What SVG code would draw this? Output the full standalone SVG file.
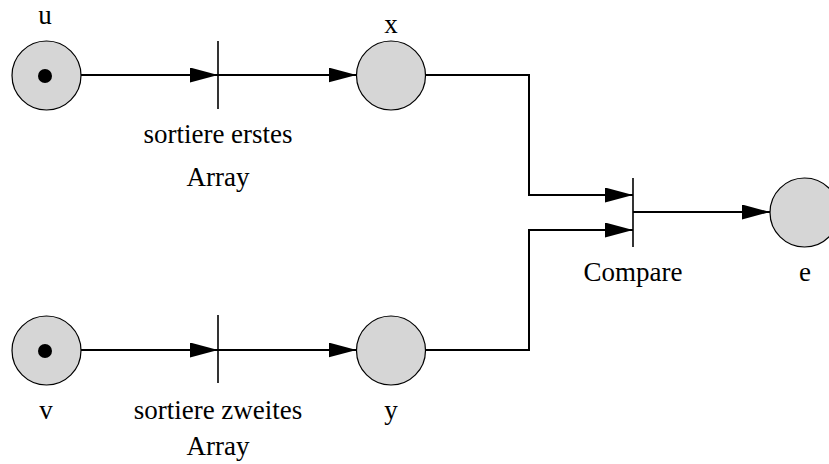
<svg xmlns="http://www.w3.org/2000/svg" width="829" height="464" viewBox="0 0 829 464">
<style>
.place{fill:#d6d6d6;stroke:#000;stroke-width:1.2}
.token{fill:#000}
.bar{stroke:#000;stroke-width:1.6}
.arc{fill:none;stroke:#000;stroke-width:2}
.lbl{font-family:"Liberation Serif","Times New Roman",serif;font-size:27px;fill:#000;text-anchor:middle}
</style>
<defs>
<marker id="ah" markerUnits="userSpaceOnUse" markerWidth="30" markerHeight="16" refX="28" refY="7.5" orient="auto">
<path d="M0,0 L28,7.5 L0,15 z" fill="#000"/>
</marker>
</defs>
<rect width="829" height="464" fill="#fff"/>
<g id="connectors">
<line class="arc" x1="81" y1="75" x2="218" y2="75" marker-end="url(#ah)"/>
<line class="arc" x1="218" y1="75" x2="356.5" y2="75" marker-end="url(#ah)"/>
<polyline class="arc" points="425.5,75 529,75 529,195 633,195" marker-end="url(#ah)"/>
<line class="arc" x1="81" y1="350" x2="218" y2="350" marker-end="url(#ah)"/>
<line class="arc" x1="218" y1="350" x2="356.5" y2="350" marker-end="url(#ah)"/>
<polyline class="arc" points="425.5,350 529,350 529,230 633,230" marker-end="url(#ah)"/>
<line class="arc" x1="633" y1="212" x2="770" y2="212" marker-end="url(#ah)"/>
</g>
<g id="u">
<circle class="place" cx="46.5" cy="75.5" r="34.5"/>
<circle class="token" cx="45" cy="76" r="7"/>
<text class="lbl" x="45" y="24">u</text>
</g>
<g id="t1">
<line class="bar" x1="218" y1="41" x2="218" y2="109"/>
<text class="lbl" x="218" y="143">sortiere erstes</text>
<text class="lbl" x="218" y="186">Array</text>
</g>
<g id="x">
<circle class="place" cx="391" cy="75.5" r="34.5"/>
<text class="lbl" x="391" y="33">x</text>
</g>
<g id="v">
<circle class="place" cx="46.5" cy="350.5" r="34.5"/>
<circle class="token" cx="45" cy="351" r="7"/>
<text class="lbl" x="46" y="419">v</text>
</g>
<g id="t2">
<line class="bar" x1="218" y1="315" x2="218" y2="383"/>
<text class="lbl" x="218" y="419">sortiere zweites</text>
<text class="lbl" x="218" y="455">Array</text>
</g>
<g id="y">
<circle class="place" cx="391" cy="350.5" r="34.5"/>
<text class="lbl" x="391" y="419">y</text>
</g>
<g id="compare">
<line class="bar" x1="633" y1="178" x2="633" y2="247"/>
<text class="lbl" x="633" y="281">Compare</text>
</g>
<g id="e">
<circle class="place" cx="804.5" cy="212.5" r="34.5"/>
<text class="lbl" x="805" y="281">e</text>
</g>
</svg>
